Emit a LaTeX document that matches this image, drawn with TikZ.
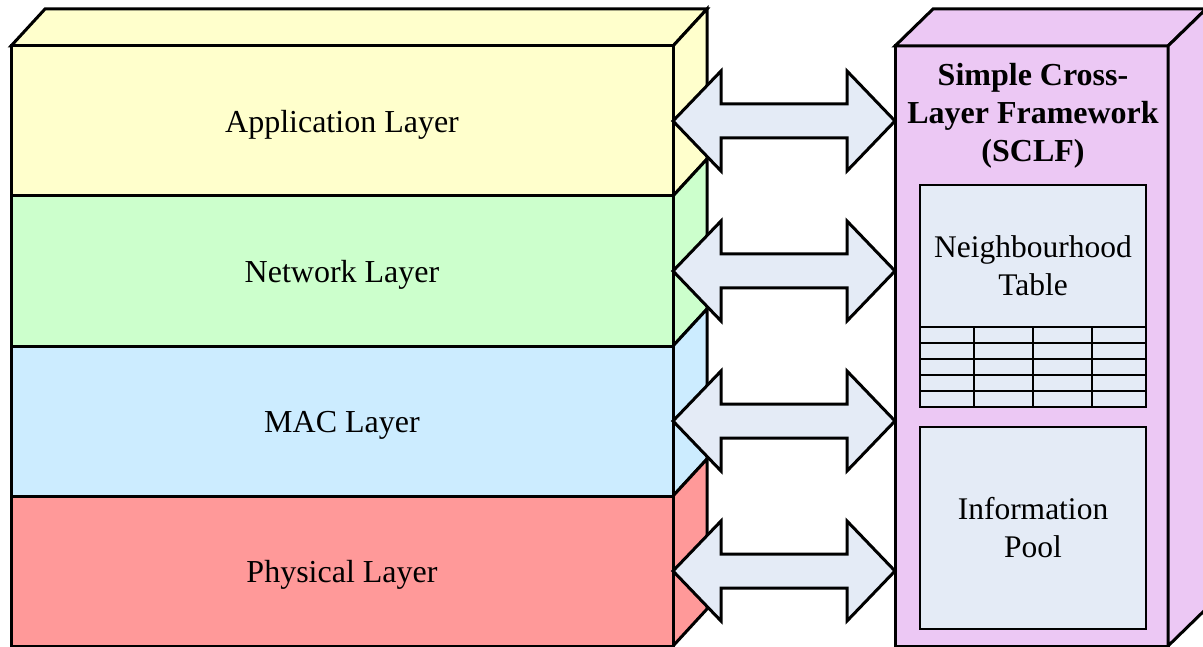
\documentclass[tikz,border=0pt]{standalone}
\usepackage{fontspec}
\setmainfont{Liberation Serif}
\usetikzlibrary{calc}
\definecolor{appc}{HTML}{FFFFCC}
\definecolor{netc}{HTML}{CCFFCC}
\definecolor{macc}{HTML}{CCECFF}
\definecolor{phyc}{HTML}{FF9999}
\definecolor{sclfc}{HTML}{ECC8F4}
\definecolor{innerc}{HTML}{E4EBF6}
\tikzset{
  face/.style={draw=black, line width=3pt, line join=miter},
  layer/.style={face, minimum width=662pt, minimum height=150pt, inner sep=0pt, outer sep=0pt},
  laytxt/.style={font=\fontsize{32}{38}\selectfont},
  arrowbox/.style={draw=black, line width=3pt, fill=innerc, line join=miter},
  inbox/.style={draw=black, line width=2pt, fill=innerc, inner sep=0pt, outer sep=0pt,
    minimum width=226pt},
  tbl/.style={draw=black, line width=2pt},
  lbl/.style={align=center, font=\fontsize{31.5}{38}\selectfont},
  ttl/.style={align=center, font=\bfseries\fontsize{32}{38}\selectfont},
}
\newcommand\dblarr[2]{%
  \draw[arrowbox] (#1) -- ++(48,-50) -- ++(0,33) -- ($(#2)+(-48,-17)$) -- ++(0,-33) -- (#2)
    -- ++(-48,50) -- ++(0,-33) -- ($(#1)+(48,17)$) -- ++(0,33) -- cycle;}
\begin{document}
\begin{tikzpicture}[x=1pt, y=-1pt]
\useasboundingbox (0,0) rectangle (1203,647);
\clip (0,0) rectangle (1203,647);
% layer front faces (positions)
\path node[layer, fill=appc] (app) at (342,121) {}
      node[layer, fill=netc] (net) at (342,271) {}
      node[layer, fill=macc] (mac) at (342,421) {}
      node[layer, fill=phyc] (phy) at (342,571) {};
% top face of the stack
\draw[face, fill=appc] (app.north west) -- ++(34,-37) -- ($(app.north east)+(34,-37)$) -- (app.north east) -- cycle;
% side faces
\foreach \n/\c in {app/appc, net/netc, mac/macc, phy/phyc}{
  \draw[face, fill=\c] (\n.north east) -- ++(34,-37) -- ($(\n.south east)+(34,-37)$) -- (\n.south east) -- cycle;
}
% front faces again on top
\node[layer, fill=appc] at (app) {};
\node[layer, fill=netc] at (net) {};
\node[layer, fill=macc] at (mac) {};
\node[layer, fill=phyc] at (phy) {};
% labels
\node[laytxt] (appl) at ($(app)+(0,4)$) {Application Layer};
\node[laytxt] (netl) at ($(net)+(0,4)$) {Network Layer};
\node[laytxt] (macl) at ($(mac)+(0,4)$) {MAC Layer};
\node[laytxt] (phyl) at ($(phy)+(0,4)$) {Physical Layer};
% SCLF block
\node[face, fill=sclfc, minimum width=273pt, minimum height=600pt, inner sep=0pt, outer sep=0pt] (sclf) at (1031.5,346) {};
\draw[face, fill=sclfc] (sclf.north west) -- ++(38,-37) -- ($(sclf.north east)+(38,-37)$) -- (sclf.north east) -- cycle;
\draw[face, fill=sclfc] (sclf.north east) -- ++(38,-37) -- ($(sclf.south east)+(38,-37)$) -- (sclf.south east) -- cycle;
\node[ttl] (title) at (1033,116) {Simple Cross-\\Layer Framework\\(SCLF)};
% neighbourhood table
\node[inbox, minimum height=222pt] (nt) at (1033,296) {};
\node[lbl] (ntl) at (1033,266) {Neighbourhood\\Table};
\foreach \k in {16,32,48,64,80}{
  \draw[tbl] ($(nt.south west)+(0,-\k)$) -- ($(nt.south east)+(0,-\k)$);
}
\foreach \c in {54,113,172}{
  \draw[tbl] ($(nt.south west)+(\c,-80)$) -- ($(nt.south west)+(\c,0)$);
}
% information pool
\node[inbox, minimum height=202pt] (ip) at (1033,528) {};
\node[lbl] (ipl) at (1033,528) {Information\\Pool};
% arrows
\foreach \n in {app,net,mac,phy}{
  \dblarr{\n.east}{sclf.west |- \n.east}
}
\end{tikzpicture}
\end{document}
